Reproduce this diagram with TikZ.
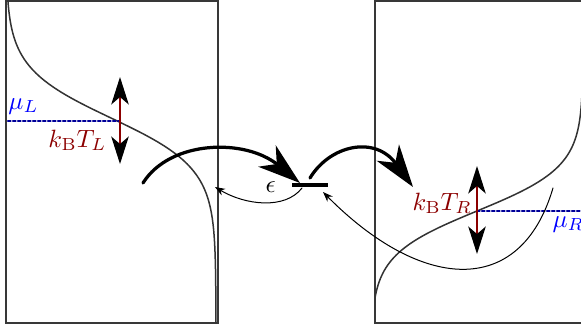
\documentclass[tikz,border=0pt]{standalone}
\usepackage{amsmath,amssymb}
\usepackage{tikz}
\usetikzlibrary{arrows.meta}
\usepackage{xcolor}

\begin{document}
\begin{tikzpicture}[x=0.4pt,y=-0.4pt,line cap=round,
  box/.style={black!78,line width=0.9pt},
  fermi/.style={black!80,line width=0.6pt},
  chem/.style={blue!60!black,densely dotted,line width=1pt},
  hop/.style={-{Stealth[length=17pt,width=11pt,inset=5pt]},line width=1.3pt},
  back/.style={-{Stealth[length=4pt,width=3pt]},line width=0.4pt},
  spread/.style={{Stealth[length=11pt,width=7pt,inset=3pt,color=black]}-{Stealth[length=11pt,width=7pt,inset=3pt,color=black]},red!55!black,line width=0.8pt},
  level/.style={fill=black,minimum width=14.4pt,minimum height=1.6pt,inner sep=0pt}]
\useasboundingbox (0,0) rectangle (581,329);
\clip (0,0) rectangle (581,329);
% reservoirs
\draw[box] (6,1) rectangle (218,323);
\draw[box] (375,1) rectangle (600,323);
% Fermi functions
\draw[fermi] plot[domain=1:323,samples=90] ({111-105*tanh((118-\x)/50)},\x);
\begin{scope}
\clip (375,1) rectangle (600,323);
\draw[fermi] plot[domain=90:323,samples=90] ({477+106*tanh((211-\x)/44)},\x);
\end{scope}
% chemical potentials
\coordinate (muLa) at (8,121);
\coordinate (muLb) at (120,121);
\coordinate (muRa) at (477,211);
\coordinate (muRb) at (581,211);
\draw[chem] (muLa) -- (muLb);
\draw[chem] (muRa) -- (muRb);
\node[blue,anchor=base west,inner sep=0pt] (muL) at (8,109) {$\mu_L$};
\node[blue,anchor=base west,inner sep=0pt] (muR) at (552,227) {$\mu_R$};
% thermal widths
\coordinate (kTLa) at (120,77);
\coordinate (kTLb) at (120,164);
\coordinate (kTRa) at (477,166);
\coordinate (kTRb) at (477,254);
\draw[spread] (kTLa) -- (kTLb);
\draw[spread] (kTRa) -- (kTRb);
\node[red!55!black,anchor=base west,inner sep=0pt] (kTL) at (48,147) {$k_\mathrm{B}T_L$};
\node[red!55!black,anchor=base west,inner sep=0pt] (kTR) at (412,210) {$k_\mathrm{B}T_R$};
% dot level
\node[level] (lvl) at (310,185) {};
\node[anchor=base west,inner sep=0pt] (eps) at (265,192) {$\epsilon$};
\coordinate (inL) at (143,183);
\coordinate (lvlL) at (300,183);
\coordinate (lvlR) at (310,178);
\coordinate (outR) at (413,187);
\draw[hop] (inL) .. controls (170,140) and (245,138) .. (lvlL);
\draw[hop] (lvlR) .. controls (330,145) and (375,135) .. (outR);
\coordinate (lvlB) at (302,188);
\coordinate (backL) at (215,187);
\coordinate (fromR) at (553,188);
\coordinate (lvlC) at (323,192);
\draw[back] (lvlB) .. controls (285,210) and (245,205) .. (backL);
\draw[back] (fromR) .. controls (520,300) and (420,290) .. (lvlC);
\end{tikzpicture}
\end{document}
